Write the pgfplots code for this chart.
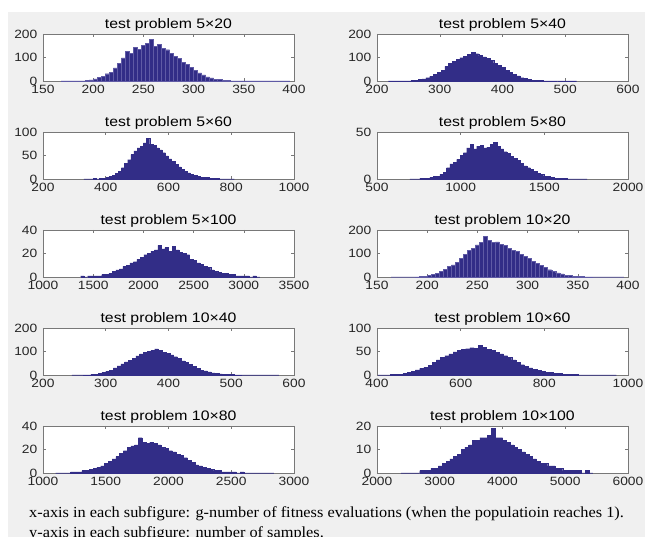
\documentclass[border=0pt]{standalone}
\usepackage{pgfplots}
\pgfplotsset{compat=1.18}
\usepackage{fontspec}
\setmainfont{Liberation Sans}[FakeStretch=1.15]
\newfontfamily\capfont{Liberation Serif}[FakeStretch=1.06]
\definecolor{mblue}{RGB}{50,45,135}
\definecolor{eblue}{RGB}{95,90,165}
\definecolor{bggray}{RGB}{240,240,240}
\definecolor{axgray}{RGB}{120,120,120}
\tikzset{tnode/.style={anchor=base, inner sep=0pt, yshift=5pt, font=\fontsize{13.75}{15}\selectfont}}
\pgfplotsset{
  hist/.style={
    scale only axis, width=251pt, height=47pt, anchor=south west,
    axis background/.style={fill=white}, clip=false,
    axis line style={axgray, line width=0.6pt},
    every tick/.style={axgray, line width=0.5pt},
    major tick length=3pt, tick align=inside,
    enlargelimits=false, ymin=0, scaled ticks=false,
    /pgf/number format/assume math mode=true,
    /pgf/number format/1000 sep={},
    tick label style={font=\fontsize{12}{13}\selectfont, text=black!85},
    xticklabel style={anchor=north, inner sep=0pt, yshift=-3.5pt},
    yticklabel style={anchor=east, inner sep=0pt, xshift=-5.5pt},
  },
  hbar/.style={ybar interval, fill=mblue, draw=mblue, line width=0.3pt},
  hbarS/.style={ybar interval, fill=mblue, draw=eblue, line width=0.4pt},
}
\begin{document}
\begin{tikzpicture}
\clip (0pt,0pt) rectangle (645pt,537pt);
\fill[white] (0pt,0pt) rectangle (645pt,537pt);
\fill[bggray] (8pt,0pt) rectangle (645pt,525pt);

% Row 1 left: 5x20
\begin{axis}[hist, at={(43pt,456pt)},
  xmin=150, xmax=400, ymax=200, xtick={150,200,...,400}, ytick={0,100,200}]
\addplot[hbarS] table[row sep=\\] {x y\\
168 0\\172 0\\176 0\\180 0\\184 1\\188 0\\192 2\\196 5\\200 9\\204 16\\
208 21\\212 31\\216 38\\220 56\\224 74\\228 98\\232 126\\236 118\\240 142\\244 136\\
248 152\\252 161\\256 178\\260 147\\264 156\\268 139\\272 133\\276 117\\280 106\\284 96\\
288 79\\292 71\\296 57\\300 46\\304 34\\308 26\\312 18\\316 13\\320 8\\324 6\\
328 4\\332 3\\336 1\\340 1\\344 0\\348 1\\352 0\\356 0\\360 0\\364 0\\
368 0\\372 0\\376 0\\380 0\\384 0\\388 0\\392 0\\396 0\\};
\node[tnode] at (rel axis cs:0.5,1) {test problem 5×20};
\end{axis}

% Row 1 right: 5x40
\begin{axis}[hist, at={(377pt,456pt)},
  xmin=200, xmax=600, ymax=200, xtick={200,300,...,600}, ytick={0,100,200}]
\addplot[hbar] table[row sep=\\] {x y\\
218 0\\224 0\\230 0\\236 0\\242 1\\248 0\\254 2\\260 3\\266 6\\272 9\\
278 14\\284 20\\290 27\\296 38\\302 46\\308 62\\314 76\\320 85\\326 92\\332 99\\
338 104\\344 113\\350 121\\356 116\\362 108\\368 103\\374 96\\380 89\\386 76\\392 68\\
398 57\\404 46\\410 37\\416 28\\422 22\\428 14\\434 10\\440 7\\446 4\\452 3\\
458 2\\464 1\\470 1\\476 0\\482 0\\488 1\\494 0\\500 0\\506 0\\512 0\\518 0\\};
\node[tnode] at (rel axis cs:0.5,1) {test problem 5×40};
\end{axis}

% Row 2 left: 5x60
\begin{axis}[hist, at={(43pt,358pt)},
  xmin=200, xmax=1000, ymax=100, xtick={200,400,...,1000}, ytick={0,50,100}]
\addplot[hbar] table[row sep=\\] {x y\\
330 0\\340 0\\350 0\\360 1\\370 0\\380 1\\390 2\\400 3\\410 5\\420 8\\
430 12\\440 17\\450 24\\460 33\\470 41\\480 52\\490 60\\500 66\\510 70\\520 77\\
530 86\\540 74\\550 71\\560 66\\570 62\\580 56\\590 49\\600 43\\610 37\\620 31\\
630 26\\640 21\\650 17\\660 13\\670 10\\680 8\\690 6\\700 4\\710 3\\720 3\\
730 2\\740 1\\750 1\\760 0\\770 0\\780 0\\790 0\\800 0\\810 0\\};
\node[tnode] at (rel axis cs:0.5,1) {test problem 5×60};
\end{axis}

% Row 2 right: 5x80
\begin{axis}[hist, at={(377pt,358pt)},
  xmin=500, xmax=2000, ymax=50, xtick={500,1000,...,2000}, ytick={0,50}]
\addplot[hbar] table[row sep=\\] {x y\\
696 0\\716 0\\736 0\\756 1\\776 1\\796 1\\816 2\\836 3\\856 3\\876 5\\
896 7\\916 12\\936 16\\956 18\\976 21\\996 25\\1016 28\\1036 33\\1056 37\\1076 32\\
1096 35\\1116 36\\1136 33\\1156 34\\1176 37\\1196 39\\1216 35\\1236 32\\1256 29\\1276 27\\
1296 24\\1316 22\\1336 20\\1356 17\\1376 14\\1396 12\\1416 10\\1436 8\\1456 6\\1476 5\\
1496 3\\1516 3\\1536 2\\1556 1\\1576 1\\1596 1\\1616 1\\1636 0\\1656 0\\1676 0\\
1696 0\\1716 0\\1736 0\\1756 0\\};
\node[tnode] at (rel axis cs:0.5,1) {test problem 5×80};
\end{axis}

% Row 3 left: 5x100
\begin{axis}[hist, at={(43pt,260pt)},
  xmin=1000, xmax=3500, ymax=40, xtick={1000,1500,...,3500}, ytick={0,20,40}]
\addplot[hbar] table[row sep=\\] {x y\\
1375 1\\1410 0\\1445 1\\1480 1\\1515 1\\1550 1\\1585 2\\1620 2\\1655 3\\1690 5\\
1725 6\\1760 7\\1795 9\\1830 10\\1865 12\\1900 13\\1935 15\\1970 17\\2005 19\\2040 20\\
2075 22\\2110 23\\2145 27\\2180 24\\2215 25\\2250 22\\2285 26\\2320 23\\2355 21\\2390 20\\
2425 19\\2460 15\\2495 14\\2530 12\\2565 11\\2600 9\\2635 8\\2670 6\\2705 5\\2740 4\\
2775 3\\2810 3\\2845 2\\2880 2\\2915 1\\2950 1\\2985 1\\3020 1\\3055 0\\3090 1\\
3125 0\\3160 0\\};
\node[tnode] at (rel axis cs:0.5,1) {test problem 5×100};
\end{axis}

% Row 3 right: 10x20
\begin{axis}[hist, at={(377pt,260pt)},
  xmin=150, xmax=400, ymax=200, xtick={150,200,...,400}, ytick={0,100,200}]
\addplot[hbarS] table[row sep=\\] {x y\\
164 0\\168 0\\172 0\\176 0\\180 0\\184 0\\188 1\\192 2\\196 4\\200 7\\
204 11\\208 15\\212 24\\216 33\\220 44\\224 52\\228 62\\232 78\\236 95\\240 112\\
244 122\\248 137\\252 148\\256 172\\260 155\\264 147\\268 149\\272 140\\276 134\\280 122\\
284 113\\288 108\\292 97\\296 88\\300 80\\304 68\\308 58\\312 50\\316 41\\320 31\\
324 24\\328 17\\332 13\\336 8\\340 6\\344 4\\348 3\\352 2\\356 1\\360 1\\
364 0\\368 0\\372 0\\376 0\\380 0\\384 0\\388 0\\392 0\\396 0\\};
\node[tnode] at (rel axis cs:0.5,1) {test problem 10×20};
\end{axis}

% Row 4 left: 10x40
\begin{axis}[hist, at={(43pt,162pt)},
  xmin=200, xmax=600, ymax=200, xtick={200,300,...,600}, ytick={0,100,200}]
\addplot[hbar] table[row sep=\\] {x y\\
246 0\\252 0\\258 0\\264 1\\270 1\\276 2\\282 4\\288 6\\294 11\\300 15\\
306 21\\312 30\\318 39\\324 47\\330 56\\336 62\\342 70\\348 81\\354 90\\360 96\\
366 101\\372 106\\378 111\\384 104\\390 97\\396 92\\402 86\\408 78\\414 70\\420 60\\
426 53\\432 45\\438 37\\444 29\\450 21\\456 17\\462 13\\468 9\\474 6\\480 5\\
486 3\\492 3\\498 2\\504 1\\510 1\\516 0\\522 0\\528 0\\534 0\\540 0\\
546 0\\552 0\\558 0\\564 0\\570 0\\576 0\\};
\node[tnode] at (rel axis cs:0.5,1) {test problem 10×40};
\end{axis}

% Row 4 right: 10x60
\begin{axis}[hist, at={(377pt,162pt)},
  xmin=400, xmax=1000, ymax=100, xtick={400,600,...,1000}, ytick={0,50,100}]
\addplot[hbar] table[row sep=\\] {x y\\
402 0\\412 0\\422 0\\432 1\\442 1\\452 2\\462 3\\472 5\\482 8\\492 11\\
502 14\\512 17\\522 21\\532 27\\542 32\\552 37\\562 41\\572 45\\582 49\\592 52\\
602 54\\612 56\\622 58\\632 57\\642 63\\652 59\\662 55\\672 52\\682 48\\692 45\\
702 41\\712 37\\722 32\\732 27\\742 22\\752 18\\762 15\\772 12\\782 10\\792 8\\
802 6\\812 5\\822 3\\832 3\\842 2\\852 1\\862 1\\872 1\\882 0\\892 0\\
902 0\\912 0\\922 0\\932 0\\942 0\\952 0\\962 0\\972 0\\};
\node[tnode] at (rel axis cs:0.5,1) {test problem 10×60};
\end{axis}

% Row 5 left: 10x80
\begin{axis}[hist, at={(43pt,64pt)},
  xmin=1000, xmax=3000, ymax=40, xtick={1000,1500,...,3000}, ytick={0,20,40}]
\addplot[hbar] table[row sep=\\] {x y\\
1100 0\\1130 0\\1160 0\\1190 0\\1220 1\\1250 1\\1280 1\\1310 2\\1340 2\\1370 3\\
1400 4\\1430 5\\1460 6\\1490 8\\1520 10\\1550 12\\1580 14\\1610 17\\1640 19\\1670 22\\
1700 23\\1730 24\\1760 30\\1790 26\\1820 25\\1850 26\\1880 25\\1910 24\\1940 22\\1970 21\\
2000 19\\2030 18\\2060 16\\2090 15\\2120 13\\2150 11\\2180 9\\2210 7\\2240 6\\2270 5\\
2300 4\\2330 3\\2360 2\\2390 2\\2420 1\\2450 1\\2480 1\\2510 1\\2540 0\\2570 1\\
2600 0\\2630 0\\2660 0\\2690 0\\2720 0\\2750 0\\2780 0\\2810 0\\2840 0\\};
\node[tnode] at (rel axis cs:0.5,1) {test problem 10×80};
\end{axis}

% Row 5 right: 10x100
\begin{axis}[hist, at={(377pt,64pt)},
  xmin=2000, xmax=6000, ymax=20, xtick={2000,3000,...,6000}, ytick={0,10,20}]
\addplot[hbar] table[row sep=\\] {x y\\
2380 0\\2440 0\\2500 0\\2560 0\\2620 0\\2680 1\\2740 1\\2800 1\\2860 2\\2920 2\\
2980 3\\3040 4\\3100 5\\3160 6\\3220 7\\3280 8\\3340 10\\3400 11\\3460 12\\3520 14\\
3580 14\\3640 15\\3700 15\\3760 16\\3820 19\\3880 15\\3940 15\\4000 14\\4060 13\\4120 12\\
4180 11\\4240 10\\4300 9\\4360 8\\4420 7\\4480 6\\4540 5\\4600 4\\4660 4\\4720 3\\
4780 3\\4840 2\\4900 2\\4960 1\\5020 1\\5080 1\\5140 1\\5200 1\\5260 0\\5320 1\\
5380 0\\5440 0\\};
\node[tnode] at (rel axis cs:0.5,1) {test problem 10×100};
\end{axis}

\node[anchor=base west, inner sep=0pt, font=\capfont\fontsize{15.4}{17}\selectfont] at (29pt,19pt)
  {x-axis in each subfigure: g-number of fitness evaluations (when the populatioin reaches 1).};
\node[anchor=base west, inner sep=0pt, font=\capfont\fontsize{15.4}{17}\selectfont] at (29pt,-1pt)
  {y-axis in each subfigure: number of samples.};
\end{tikzpicture}
\end{document}
